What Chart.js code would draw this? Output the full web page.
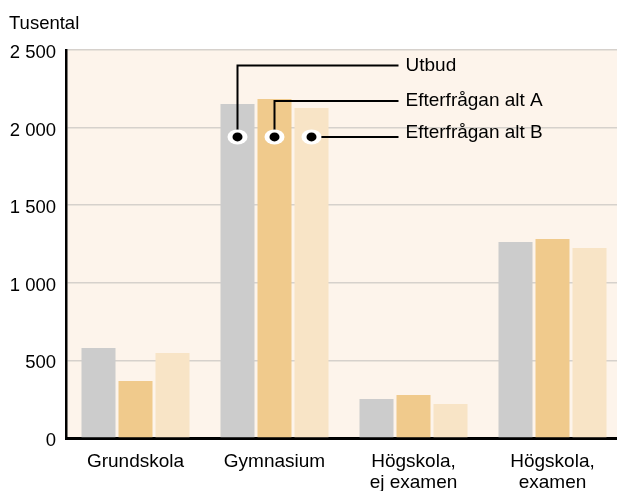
<!DOCTYPE html>
<html>
<head>
<meta charset="utf-8">
<script src="https://cdn.jsdelivr.net/npm/chart.js@4.4.1/dist/chart.umd.min.js"></script>
<style>
  html, body { margin: 0; padding: 0; background: #fff; overflow: hidden; }
  canvas { display: block; }
</style>
</head>
<body>
<canvas id="utbudChart" width="622" height="491"></canvas>
<script>
var categories = [['Grundskola'], ['Gymnasium'], ['Högskola,', 'ej examen'], ['Högskola,', 'examen']];
var seriesNames = ['Utbud', 'Efterfrågan alt A', 'Efterfrågan alt B'];
var utbud = [580, 2152, 251, 1263];
var altA = [367, 2184, 277, 1282];
var altB = [548, 2126, 219, 1224];
var yTicks = [0, 500, 1000, 1500, 2000, 2500];

// callout lines: y value of the horizontal leg for each series, dot value on the Gymnasium bars
var calloutLevels = [2400, 2172, 1940];
var calloutDot = 1940;

var fontFamily = '"Liberation Sans", Arial, sans-serif';

var plotBackground = {
    id: 'plotBackground',
    beforeDraw: function (chart) {
        var a = chart.chartArea, ctx = chart.ctx;
        ctx.save();
        ctx.fillStyle = '#fdf4eb';
        ctx.fillRect(a.left, a.top, a.right - a.left, a.bottom - a.top);
        ctx.fillStyle = '#000';
        ctx.font = '18.5px ' + fontFamily;
        ctx.textBaseline = 'middle';
        ctx.fillText('Tusental', 9, 24);
        ctx.restore();
    }
};

var callouts = {
    id: 'callouts',
    afterDatasetsDraw: function (chart) {
        var ctx = chart.ctx, y = chart.scales.y, x = chart.scales.x;
        var textX = x.getPixelForValue(1) + 131;
        var textShift = [0, 0, -4];
        ctx.save();
        ctx.strokeStyle = '#000';
        ctx.lineWidth = 2;
        seriesNames.forEach(function (name, i) {
            var bar = chart.getDatasetMeta(i).data[1];
            var dy = y.getPixelForValue(calloutDot);
            var ly = y.getPixelForValue(calloutLevels[i]);
            ctx.beginPath();
            ctx.moveTo(bar.x, dy);
            ctx.lineTo(bar.x, ly);
            ctx.lineTo(textX - 7, ly);
            ctx.stroke();
            ctx.fillStyle = '#fff';
            ctx.beginPath();
            ctx.ellipse(bar.x, dy, 10, 7.5, 0, 0, Math.PI * 2);
            ctx.fill();
            ctx.fillStyle = '#000';
            ctx.beginPath();
            ctx.ellipse(bar.x, dy, 5, 4.5, 0, 0, Math.PI * 2);
            ctx.fill();
            ctx.font = '19px ' + fontFamily;
            ctx.textBaseline = 'middle';
            ctx.fillText(name, textX, ly + textShift[i]);
        });
        ctx.restore();
    }
};

var ctx = document.getElementById('utbudChart').getContext('2d');
new Chart(ctx, {
    type: 'bar',
    data: {
        labels: categories,
        datasets: [
            { label: seriesNames[0], data: utbud, backgroundColor: '#cccccc' },
            { label: seriesNames[1], data: altA, backgroundColor: '#f0ca8c' },
            { label: seriesNames[2], data: altB, backgroundColor: '#f8e4c6' }
        ]
    },
    options: {
        responsive: false,
        animation: false,
        layout: { padding: { top: 50, left: 0, right: 0, bottom: 0 } },
        datasets: { bar: { categoryPercentage: 0.7986, barPercentage: 0.919 } },
        plugins: { legend: { display: false }, tooltip: { enabled: false } },
        scales: {
            x: {
                grid: { display: false },
                border: { color: '#000', width: 3 },
                ticks: { color: '#000', font: { size: 19, family: fontFamily, lineHeight: 1.08 }, padding: 6, maxRotation: 0 },
                afterFit: function (s) { s.height = 53; }
            },
            y: {
                min: 0,
                max: 2500,
                afterBuildTicks: function (s) { s.ticks = yTicks.map(function (v) { return { value: v }; }); },
                grid: { color: '#d6d1cc', lineWidth: 1.5, drawTicks: false },
                border: { color: '#000', width: 2.5 },
                ticks: {
                    color: '#000',
                    font: { size: 18.5, family: fontFamily },
                    padding: 10,
                    labelOffset: 3,
                    callback: function (v) { return String(v).replace(/\B(?=(\d{3})+(?!\d))/g, ' '); }
                },
                afterFit: function (s) { s.width = 66; }
            }
        }
    },
    plugins: [plotBackground, callouts]
});
</script>
</body>
</html>
